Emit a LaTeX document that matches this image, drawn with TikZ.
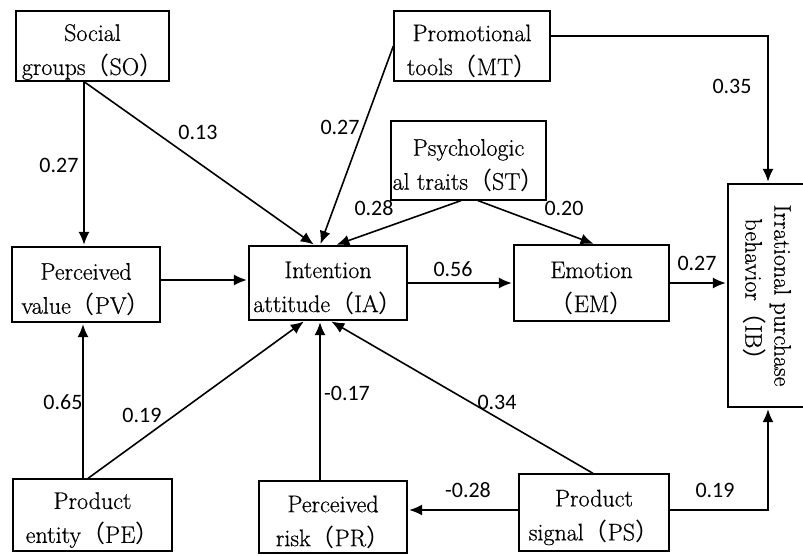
\documentclass[tikz,border=0pt]{standalone}
\usepackage{fontspec}
\setmainfont{Latin Modern Roman}[UprightFeatures={FakeBold=0.6}]
\newfontfamily\cjk{Noto Sans CJK SC}
\newfontfamily\numfont{Carlito}
\usetikzlibrary{arrows.meta}
% full-width parentheses
\newcommand\fwl{{\cjk （}}
\newcommand\fwr{{\cjk ）}}
\begin{document}
\begin{tikzpicture}[x=1pt,y=-1pt,
  box/.style={draw,line width=1.3pt,inner sep=0pt},
  caption/.style={align=center,inner sep=0pt,font=\fontsize{24}{34}\selectfont},
  coef/.style={font=\numfont\fontsize{22}{26}\selectfont,inner sep=0pt},
  link/.style={line width=1.6pt,shorten >=1.5pt,-{Latex[length=13pt,width=11pt]}}]
\clip (0,0) rectangle (803,556);
\fill[white] (0,0) rectangle (803,556);

% construct boxes
\node[box,minimum width=153pt,minimum height=70pt] (SO) at (92.5,46) {};
\node[box,minimum width=156pt,minimum height=70pt] (MT) at (472,46) {};
\node[box,minimum width=155pt,minimum height=79pt] (ST) at (468.5,160.5) {};
\node[box,minimum width=148pt,minimum height=75pt] (PV) at (86,284.5) {};
\node[box,minimum width=158pt,minimum height=74pt] (IA) at (328,283) {};
\node[box,minimum width=155pt,minimum height=76pt] (EM) at (591.5,283) {};
\node[box,minimum width=80pt,minimum height=223pt] (IB) at (768,295.5) {};
\node[box,minimum width=159pt,minimum height=72pt] (PE) at (92.5,515) {};
\node[box,minimum width=148pt,minimum height=72pt] (PR) at (333,517) {};
\node[box,minimum width=150pt,minimum height=77pt] (PS) at (594,512.5) {};

% construct names
\node[caption] (SOt) at ([yshift=-6pt]SO.center) {Social\\groups\fwl SO\fwr};
\node[caption] (MTt) at ([yshift=-5pt]MT.center) {Promotional\\tools\fwl MT\fwr};
\node[caption] (STt) at ([yshift=-5pt]ST.center) {Psychologic\\al traits\fwl ST\fwr};
\node[caption] (PVt) at ([yshift=-5pt]PV.center) {Perceived\\value\fwl PV\fwr};
\node[caption] (IAt) at ([yshift=-5pt]IA.center) {Intention\\attitude\fwl IA\fwr};
\node[caption] (EMt) at ([yshift=-5pt]EM.center) {Emotion\\\fwl EM\fwr};
\node[caption,rotate=-90,font=\fontsize{24}{29}\selectfont] (IBt) at ([xshift=-1pt]IB.center) {Irrational purchase\\behavior\fwl IB\fwr};
\node[caption] (PEt) at ([yshift=-5pt]PE.center) {Product\\entity\fwl PE\fwr};
\node[caption] (PRt) at ([yshift=-5pt]PR.center) {Perceived\\risk\fwl PR\fwr};
\node[caption] (PSt) at ([yshift=-5pt]PS.center) {Product\\signal\fwl PS\fwr};

% paths
\draw[link] ([xshift=-8.5pt]SO.south) -- ([xshift=-2pt]PV.north);
\draw[link] ([xshift=-8.5pt]SO.south) -- ([xshift=-13pt]IA.north);
\draw[link] (MT.west) -- ([xshift=-8pt]IA.north);
\draw[link] ([xshift=-7.5pt]ST.south) -- ([xshift=7pt]IA.north);
\draw[link] ([xshift=9.5pt]ST.south) -- ([xshift=3.5pt]EM.north);
\draw[link] ([yshift=10pt]MT.east) -| (IB.north);
\draw[link] ([yshift=4.5pt]PV.east) -- ([yshift=4.5pt]PV.east -| IA.west);
\draw[link] (IA.east) -- (IA.east -| EM.west);
\draw[link] (EM.east) -- (EM.east -| IB.west);
\draw[link] ([xshift=-9.5pt]PE.north) -- ([xshift=-9.5pt]PE.north |- PV.south);
\draw[link] ([xshift=-4.5pt]PE.north) -- ([xshift=-23pt]IA.south);
\draw[link] ([xshift=-13pt]PR.north) -- ([xshift=-13pt]PR.north |- IA.south);
\draw[link] ([xshift=-1pt]PS.north) -- ([xshift=2pt]IA.south);
\draw[link] ([yshift=2.5pt]PS.west) -- ([yshift=2.5pt]PS.west -| PR.east);
\draw[link] ([yshift=2.5pt]PS.east) -| (IB.south);

% path coefficients
\node[coef] (cSOPV) at (59,165) {0.27};
\node[coef] (cSOIA) at (198,132) {0.13};
\node[coef] (cMTIA) at (340,127) {0.27};
\node[coef] (cSTIA) at (374,208) {0.28};
\node[coef] (cSTEM) at (564,208) {0.20};
\node[coef] (cMTIB) at (732,86) {0.35};
\node[coef] (cIAEM) at (453,269) {0.56};
\node[coef] (cEMIB) at (697,263) {0.27};
\node[coef] (cPEPV) at (63,402) {0.65};
\node[coef] (cPEIA) at (142,415) {0.19};
\node[coef] (cPRIA) at (347,393) {-0.17};
\node[coef] (cPSIA) at (497,402) {0.34};
\node[coef] (cPSPR) at (468,490) {-0.28};
\node[coef] (cPSIB) at (715,490) {0.19};
\end{tikzpicture}
\end{document}
